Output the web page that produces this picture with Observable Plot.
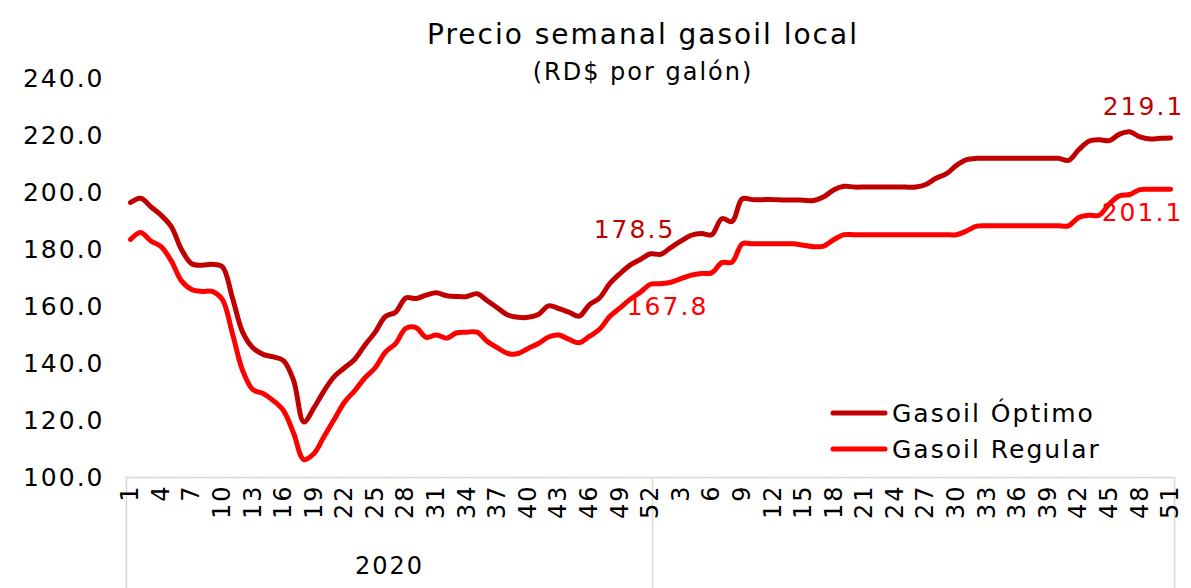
<!DOCTYPE html>
<html>
<head>
<meta charset="utf-8">
<script src="https://cdn.jsdelivr.net/npm/d3@7"></script>
<script src="https://cdn.jsdelivr.net/npm/@observablehq/plot@0.6"></script>
<style>
  html, body { margin: 0; padding: 0; background: #fff; }
  #wrap { position: relative; width: 1191px; height: 588px; overflow: hidden; font-family: "DejaVu Sans", sans-serif; color: #000; letter-spacing: 2px; }
  #title { position: absolute; left: 0; width: 1286px; top: 15px; text-align: center; font-size: 28px; line-height: 40px; }
  #subtitle { position: absolute; left: 0; width: 1286px; top: 56px; text-align: center; font-size: 24px; line-height: 32px; }
  #legend { position: absolute; left: 830px; top: 395px; font-size: 25px; }
  .li { display: flex; align-items: center; height: 36px; }
  .li svg { margin-right: 4px; }
  #chart { position: absolute; left: 0; top: 0; }
</style>
</head>
<body>
<div id="wrap">
  <div id="chart"></div>
  <div id="title">Precio semanal gasoil local</div>
  <div id="subtitle">(RD$ por galón)</div>
  <div id="legend"></div>
</div>
<script>
// Categories: weeks of 2020 (1..52) and 2021 (1..51)
const years = ["2020", "2021"];
const weeks2020 = d3.range(1, 53);
const weeks2021 = d3.range(1, 52);

const seriesNames = ["Gasoil Óptimo", "Gasoil Regular"];
const seriesColors = ["#C00000", "#FF0000"];

const optimo = [
  196.5, 198.0, 195.0, 192.0, 188.0, 180.0, 175.0, 174.5, 174.8, 174.0,
  163.0, 151.0, 145.5, 143.2, 142.3, 141.0, 134.0, 119.5, 124.5, 130.5,
  135.5, 138.5, 141.5, 146.5, 151.0, 156.5, 158.0, 163.0, 162.8, 164.0,
  164.8, 163.8, 163.5, 163.5, 164.5, 162.0, 159.5, 157.0, 156.2, 156.2,
  157.2, 160.2, 159.3, 158.0, 156.6, 160.6, 163.0, 168.0, 171.5, 174.5,
  176.5, 178.5, 178.3, 180.7, 183.0, 185.0, 185.6, 185.2, 190.8, 189.8,
  197.8, 197.5, 197.5, 197.5, 197.4, 197.4, 197.3, 197.2, 198.5, 201.0,
  202.2, 201.9, 201.9, 201.9, 201.9, 201.9, 201.9, 201.9, 202.8, 205.0,
  206.5, 209.5, 211.5, 212.0, 212.0, 212.0, 212.0, 212.0, 212.0, 212.0,
  212.0, 212.0, 211.3, 215.0, 218.0, 218.5, 218.2, 220.5, 221.3, 219.5,
  218.8, 219.0, 219.1
];

const regular = [
  183.5, 186.0, 183.0, 181.0, 176.0, 169.0, 166.0, 165.3, 165.3, 162.5,
  150.5, 137.5, 130.8, 129.5, 127.0, 123.5, 115.5, 106.3, 108.4, 114.5,
  120.5, 126.5, 130.5, 135.0, 138.5, 144.0, 147.0, 152.3, 152.6, 149.2,
  150.0, 148.9, 150.8, 151.0, 151.0, 147.7, 145.5, 143.5, 143.5, 145.3,
  147.0, 149.3, 150.0, 148.5, 147.3, 149.5, 152.0, 156.5, 159.5, 162.5,
  165.0, 167.8, 168.0, 168.5, 169.8, 171.0, 171.6, 171.8, 175.4, 175.6,
  182.0, 182.0, 182.0, 182.0, 182.0, 182.0, 181.5, 181.0, 181.2, 183.5,
  185.2, 185.2, 185.2, 185.2, 185.2, 185.2, 185.2, 185.2, 185.2, 185.2,
  185.2, 185.2, 186.5, 188.2, 188.3, 188.3, 188.3, 188.3, 188.3, 188.3,
  188.3, 188.3, 188.3, 191.2, 192.0, 192.0, 196.0, 198.8, 199.3, 201.0,
  201.1, 201.1, 201.1
];

const yTicks = [100, 120, 140, 160, 180, 200, 220, 240];

// Build table
const cats = [
  ...weeks2020.map(w => ({year: years[0], week: w})),
  ...weeks2021.map(w => ({year: years[1], week: w}))
];
cats.forEach((c, i) => c.i = i);
const rows = [];
[optimo, regular].forEach((vals, s) => {
  vals.forEach((v, i) => rows.push({i, value: v, series: seriesNames[s]}));
});
const tickCats = cats.filter(c => c.i % 3 === 0);

// group edges along the category axis (half-offset boundaries)
const n2020 = weeks2020.length;
const lastI = cats.length - 1;
const groupEdges = [-0.4, n2020 - 0.8, lastI + 0.4];
const yearGroups = [{year: years[0], mid: (groupEdges[0] + groupEdges[1]) / 2}];

// annotation labels (value at end of 2020 and last week)
const annos = [
  {i: n2020 - 1, value: optimo[n2020 - 1], color: seriesColors[0], dx: -16, dy: -24},
  {i: n2020 - 1, value: regular[n2020 - 1], color: seriesColors[1], dx: 17, dy: 23},
  {i: lastI, value: optimo[lastI], color: seriesColors[0], dx: -27, dy: -31},
  {i: lastI, value: regular[lastI], color: seriesColors[1], dx: -28, dy: 24}
];

const chart = Plot.plot({
  width: 1191,
  height: 588,
  marginTop: 78,
  marginBottom: 111,
  marginLeft: 130,
  marginRight: 21,
  style: {fontFamily: "DejaVu Sans, sans-serif", fontSize: "25px", color: "#000", background: "transparent", letterSpacing: "2px", overflow: "visible"},
  x: {domain: [0, lastI], axis: null},
  y: {domain: [100, 240], axis: null},
  color: {domain: seriesNames, range: seriesColors},
  marks: [
    Plot.axisY({ticks: yTicks, tickSize: 0, tickPadding: 26, tickFormat: d => d.toFixed(1), fontSize: 25, label: null}),
    Plot.ruleY([100], {x1: groupEdges[0], x2: groupEdges[2], stroke: "#d9d9d9", strokeWidth: 1.5}),
    Plot.ruleX(groupEdges, {y1: 100, y2: 61, stroke: "#d9d9d9", strokeWidth: 1.5}),
    Plot.text(tickCats, {x: "i", frameAnchor: "bottom", text: d => String(d.week), rotate: -90, textAnchor: "end", lineAnchor: "middle", dy: 7, fontSize: 24, fill: "#000"}),
    Plot.text(yearGroups, {x: "mid", frameAnchor: "bottom", text: "year", dy: 96, fontSize: 24, fill: "#000"}),
    Plot.line(rows, {x: "i", y: "value", z: "series", stroke: "series", strokeWidth: 5, curve: "catmull-rom", strokeLinejoin: "round", strokeLinecap: "round"}),
    ...annos.map(a => Plot.text([a], {x: "i", y: "value", text: d => d.value.toFixed(1), fill: a.color, dx: a.dx, dy: a.dy, fontSize: 25, letterSpacing: "0.5px"}))
  ]
});
document.getElementById("chart").appendChild(chart);

// Legend
const legend = document.getElementById("legend");
seriesNames.forEach((name, k) => {
  const div = document.createElement("div");
  div.className = "li";
  div.innerHTML = `<svg width="58" height="10"><line x1="3" y1="5" x2="55" y2="5" stroke="${seriesColors[k]}" stroke-width="5" stroke-linecap="round"/></svg><span>${name}</span>`;
  legend.appendChild(div);
});
</script>
</body>
</html>
